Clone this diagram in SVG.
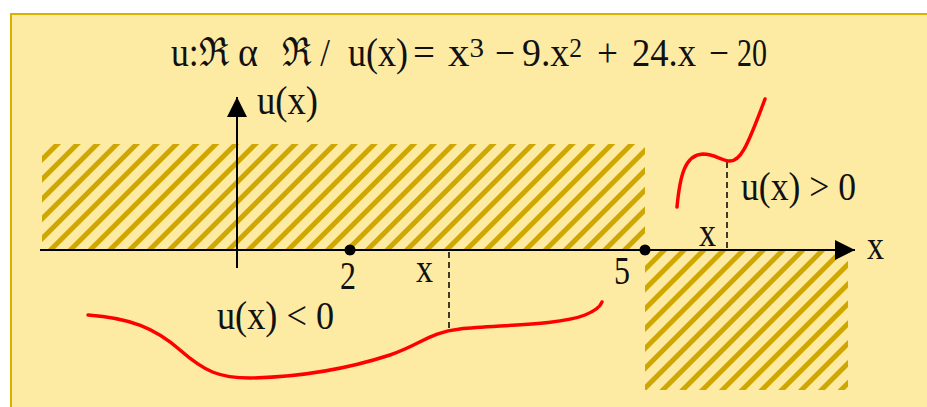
<svg xmlns="http://www.w3.org/2000/svg" width="927" height="407" viewBox="0 0 927 407">
  <defs>
    <pattern id="hatch" patternUnits="userSpaceOnUse" width="14" height="14" patternTransform="rotate(45)">
      <rect x="0" y="0" width="5" height="14" fill="#CFA700"/>
    </pattern>
    <marker id="arrow" markerWidth="20" markerHeight="20" refX="20" refY="10" orient="auto" markerUnits="userSpaceOnUse">
      <path d="M0,0 L20,10 L0,20 Z" fill="#000"/>
    </marker>
  </defs>
  <style>
    .t { font-family: "Liberation Serif", "Times New Roman", serif; font-size: 40px; fill: #111; }
    .sup { font-size: 27px; }
    .curve { fill: none; stroke: #FF0000; stroke-width: 3.5; stroke-linecap: round; }
    .axis { stroke: #000; stroke-width: 2; fill: none; }
    .dash { stroke: #000; stroke-width: 1.5; stroke-dasharray: 6 4; fill: none; }
    .hatched { fill: url(#hatch); }
  </style>
  <rect x="0" y="0" width="927" height="407" fill="#FFFFFF"/>
  <rect x="11" y="14" width="930" height="410" fill="#FEEBA3" stroke="#D9B200" stroke-width="2"/>

  <g id="title">
    <text class="t" x="171" y="66" textLength="58" lengthAdjust="spacingAndGlyphs">u:ℜ</text>
    <text class="t" x="238" y="66" textLength="20" lengthAdjust="spacingAndGlyphs">α</text>
    <text class="t" x="282" y="66" textLength="48" lengthAdjust="spacingAndGlyphs">ℜ /</text>
    <text class="t" x="348" y="66" textLength="60" lengthAdjust="spacingAndGlyphs">u(x)</text>
    <text class="t" x="413" y="66" textLength="22" lengthAdjust="spacingAndGlyphs">=</text>
    <text class="t" x="448" y="66" textLength="36" lengthAdjust="spacingAndGlyphs">x<tspan class="sup" dy="-9">3</tspan></text>
    <text class="t" x="495" y="66" textLength="20" lengthAdjust="spacingAndGlyphs">−</text>
    <text class="t" x="522" y="66" textLength="60" lengthAdjust="spacingAndGlyphs">9.x<tspan class="sup" dy="-9">2</tspan></text>
    <text class="t" x="597" y="66" textLength="21" lengthAdjust="spacingAndGlyphs">+</text>
    <text class="t" x="632" y="66" textLength="64" lengthAdjust="spacingAndGlyphs">24.x</text>
    <text class="t" x="709" y="66" textLength="20" lengthAdjust="spacingAndGlyphs">−</text>
    <text class="t" x="737" y="66" textLength="30" lengthAdjust="spacingAndGlyphs">20</text>
  </g>

  <g id="region-positive" class="hatched">
    <rect x="42" y="144" width="603" height="106"/>
  </g>
  <g id="region-negative" class="hatched">
    <rect x="645" y="250" width="203" height="140"/>
  </g>

  <g id="connectors">
    <line class="axis" x1="40" y1="250" x2="855" y2="250" marker-end="url(#arrow)"/>
    <line class="axis" x1="237" y1="268" x2="237" y2="97" marker-end="url(#arrow)"/>
    <line class="dash" x1="449" y1="252" x2="449" y2="330"/>
    <line class="dash" x1="727" y1="162" x2="727" y2="250"/>
  </g>

  <g id="curve-negative">
    <path class="curve" d="M88,315 C130,318 155,328 180,350 C205,372 220,378 250,378 C300,377 350,368 390,355 C420,345 430,332 460,329 C500,325 560,325 585,315 C597,310 601,305 602,302"/>
  </g>
  <g id="curve-positive">
    <path class="curve" d="M677,207 C680,175 685,155 703,154 C715,154 722,161 730,161 C740,161 746,150 765,99"/>
  </g>

  <g id="point-2">
    <circle cx="350" cy="250" r="5.5" fill="#000"/>
    <text class="t" x="340" y="289" textLength="16" lengthAdjust="spacingAndGlyphs">2</text>
  </g>
  <g id="point-5">
    <circle cx="645" cy="250" r="5.5" fill="#000"/>
    <text class="t" x="614" y="284" textLength="16" lengthAdjust="spacingAndGlyphs">5</text>
  </g>

  <g id="labels">
    <text class="t" x="257" y="114" textLength="61" lengthAdjust="spacingAndGlyphs">u(x)</text>
    <text class="t" x="416" y="282" textLength="17" lengthAdjust="spacingAndGlyphs">x</text>
    <text class="t" x="699" y="246" textLength="17" lengthAdjust="spacingAndGlyphs">x</text>
    <text class="t" x="867" y="259" textLength="17" lengthAdjust="spacingAndGlyphs">x</text>
    <text class="t" x="741" y="200" textLength="115" lengthAdjust="spacingAndGlyphs">u(x) &gt; 0</text>
    <text class="t" x="217" y="329" textLength="117" lengthAdjust="spacingAndGlyphs">u(x) &lt; 0</text>
  </g>
</svg>
